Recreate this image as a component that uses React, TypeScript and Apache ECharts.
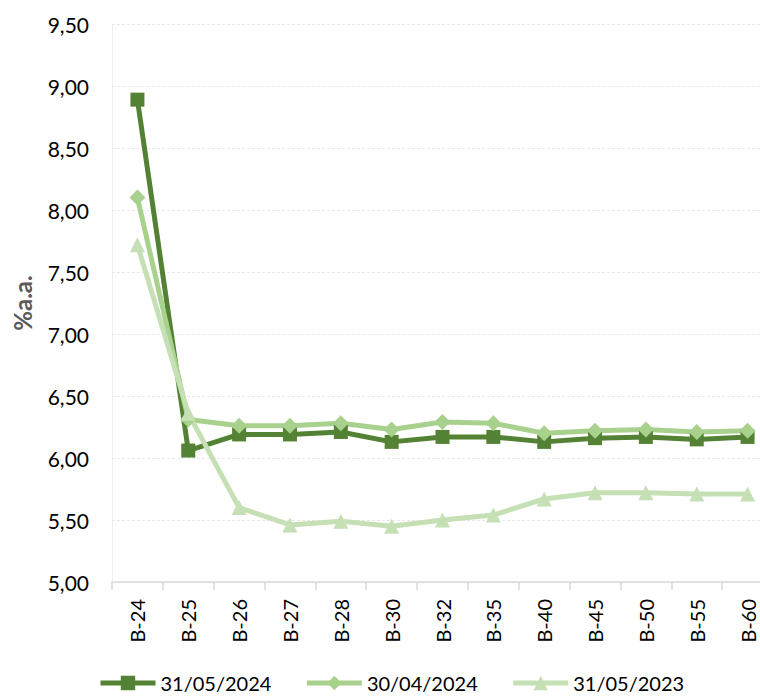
import React, { useEffect, useRef } from "react";
import * as echarts from "echarts";

const categories = ["B-24", "B-25", "B-26", "B-27", "B-28", "B-30", "B-32", "B-35", "B-40", "B-45", "B-50", "B-55", "B-60"];
const seriesNames = ["31/05/2024", "30/04/2024", "31/05/2023"];
const may2024 = [8.89, 6.06, 6.19, 6.19, 6.21, 6.13, 6.17, 6.17, 6.13, 6.16, 6.17, 6.15, 6.17];
const apr2024 = [8.1, 6.31, 6.26, 6.26, 6.28, 6.23, 6.29, 6.28, 6.2, 6.22, 6.23, 6.21, 6.22];
const may2023 = [7.72, 6.36, 5.6, 5.46, 5.49, 5.45, 5.5, 5.54, 5.67, 5.72, 5.72, 5.71, 5.71];
const yTicks = { min: 5, max: 9.5, step: 0.5 };

const colors = ["#548235", "#A9D18E", "#C5E0B4"];
const symbols = ["rect", "diamond", "triangle"];
const symbolSizes = [14, 16, 15];
const FONT = "Lato, 'Open Sans', sans-serif";

export default function App() {
  const ref = useRef<HTMLDivElement>(null);

  useEffect(() => {
    if (!ref.current) return;
    const chart = echarts.init(ref.current, null, { renderer: "svg" });
    const values = [may2024, apr2024, may2023];
    chart.setOption({
      animation: false,
      textStyle: { fontFamily: FONT },
      grid: { left: 112, right: 7, top: 24, bottom: 114 },
      legend: {
        left: 93,
        top: 668,
        itemWidth: 55,
        itemHeight: 18,
        itemGap: 33,
        lineStyle: { width: 5 },
        textStyle: { fontSize: 20, lineHeight: 20, color: "#000", fontFamily: FONT },
        data: seriesNames,
      },
      xAxis: {
        type: "category",
        data: categories,
        boundaryGap: true,
        axisLine: { lineStyle: { color: "#d9d9d9", width: 1.5 } },
        axisTick: { show: true, length: 8, lineStyle: { color: "#d9d9d9", width: 1.5 } },
        axisLabel: { rotate: 90, fontSize: 20, lineHeight: 16, color: "#000", margin: 17, fontFamily: FONT },
      },
      yAxis: {
        type: "value",
        min: yTicks.min,
        max: yTicks.max,
        interval: yTicks.step,
        name: "%a.a.",
        nameLocation: "middle",
        nameRotate: 90,
        nameGap: 78,
        nameTextStyle: { fontSize: 24, fontWeight: "bold", color: "#595959", fontFamily: FONT },
        axisLine: { show: true, lineStyle: { color: "#ececec", type: "dotted" } },
        axisTick: { show: false },
        axisLabel: {
          fontSize: 21,
          color: "#000",
          margin: 23,
          fontFamily: FONT,
          formatter: (v: number) => v.toFixed(2).replace(".", ","),
        },
        splitLine: { lineStyle: { color: "#e8e8e8", type: [3, 2] } },
      },
      series: seriesNames.map((name, i) => ({
        name,
        type: "line",
        data: values[i],
        symbol: symbols[i],
        symbolSize: symbolSizes[i],
        lineStyle: { color: colors[i], width: 5 },
        itemStyle: { color: colors[i] },
      })),
    });
    return () => chart.dispose();
  }, []);

  return (
    <div style={{ position: "fixed", left: 0, top: 0, width: 760, height: 696, overflow: "hidden", background: "#fff" }}>
      <div ref={ref} style={{ width: 780, height: 696 }} />
    </div>
  );
}
